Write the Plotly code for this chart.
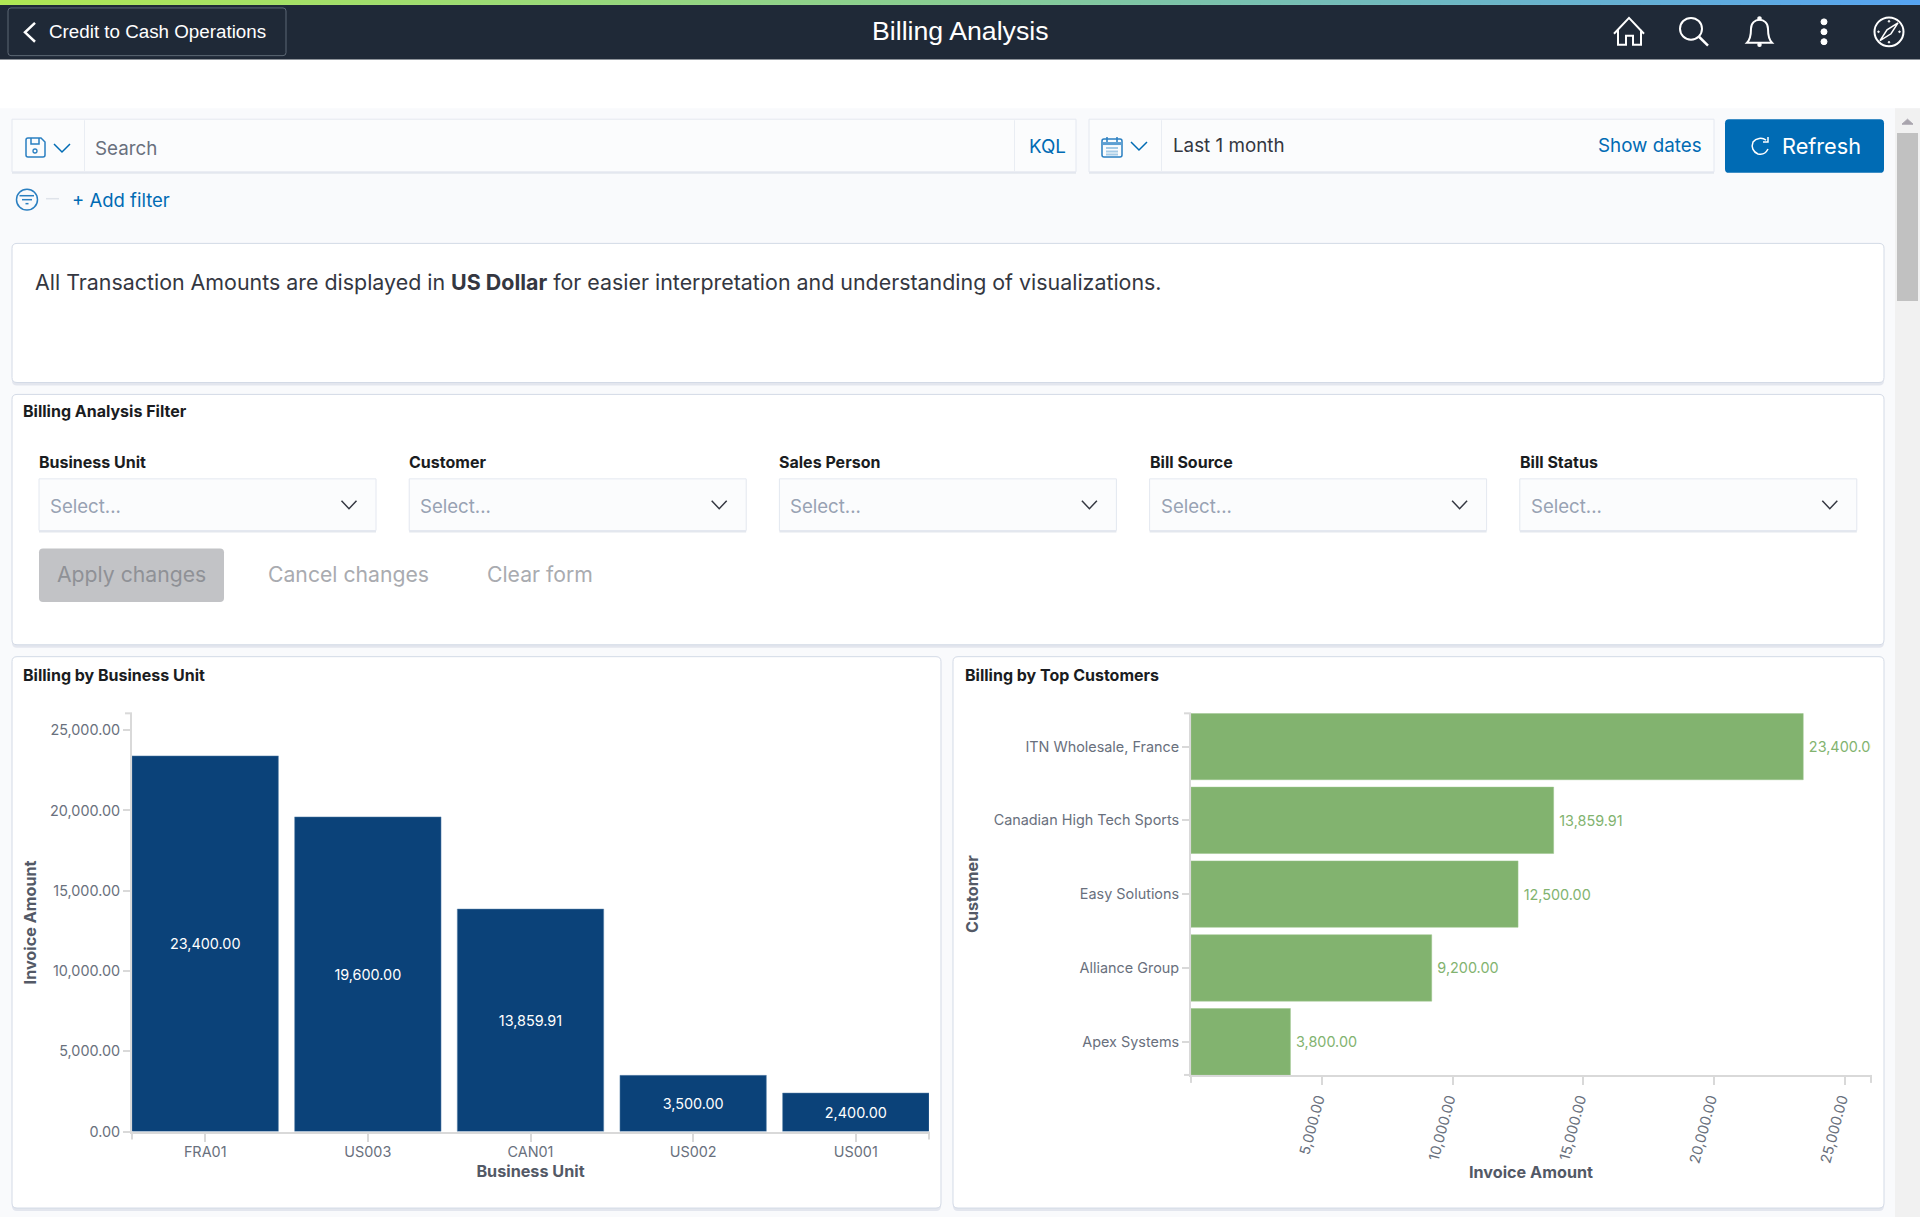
import re
import plotly.graph_objects as go

W, H = 1920, 1225

# chart values
unit_names = ['FRA01', 'US003', 'CAN01', 'US002', 'US001']
unit_amounts = [23400.00, 19600.00, 13859.91, 3500.00, 2400.00]
customer_names = ['ITN Wholesale, France', 'Canadian High Tech Sports', 'Easy Solutions', 'Alliance Group', 'Apex Systems']
customer_amounts = [23400.00, 13859.91, 12500.00, 9200.00, 3800.00]
amount_ticks = [0, 5000, 10000, 15000, 20000, 25000]
filter_names = ['Business Unit', 'Customer', 'Sales Person', 'Bill Source', 'Bill Status']

FONT = 'Inter'
BLUE = '#006bb4'
ICON = '#2a7fc1'
BORDER = '#d3dae6'
AXIS = '#d9d9d9'
TICK = '#69707d'
TITLE = '#535966'


def px(x):
    return x / W


def py(y):
    return 1 - y / H


def to_paper(d):
    # path written in pixels, converted to paper fractions
    out = []
    is_x = True
    for tok in re.findall(r'[MLCQZ]|-?[\d.]+', d):
        if tok in 'MLCQZ':
            out.append(tok)
            is_x = True
        else:
            out.append(f'{px(float(tok)) if is_x else py(float(tok)):.6f}')
            is_x = not is_x
    return ' '.join(out)


shapes = []
notes = []


def rect(x0, y0, x1, y1, fill, line=None, lw=1):
    shapes.append(dict(type='rect', xref='paper', yref='paper', layer='below',
                       x0=px(x0), x1=px(x1), y0=py(y0), y1=py(y1), fillcolor=fill,
                       line=dict(color=line or fill, width=lw if line else 0)))


def rrect(x0, y0, x1, y1, r, fill, line=None, lw=1):
    d = (f'M {x0+r} {y0} L {x1-r} {y0} Q {x1} {y0} {x1} {y0+r} L {x1} {y1-r} Q {x1} {y1} {x1-r} {y1} '
         f'L {x0+r} {y1} Q {x0} {y1} {x0} {y1-r} L {x0} {y0+r} Q {x0} {y0} {x0+r} {y0} Z')
    shapes.append(dict(type='path', xref='paper', yref='paper', layer='below', path=to_paper(d),
                       fillcolor=fill, line=dict(color=line or fill, width=lw if line else 0)))


def stroke(d, color, lw=2, fill=None, layer='above'):
    s = dict(type='path', xref='paper', yref='paper', layer=layer, path=to_paper(d),
             line=dict(color=color, width=lw))
    if fill:
        s['fillcolor'] = fill
    shapes.append(s)


def circle(cx, cy, r, color, lw=2, fill=None):
    s = dict(type='circle', xref='paper', yref='paper', x0=px(cx-r), x1=px(cx+r), y0=py(cy-r), y1=py(cy+r),
             line=dict(color=color, width=lw))
    if fill:
        s['fillcolor'] = fill
    shapes.append(s)


def text(x, y, s, size, color, anchor='left', family=FONT, angle=0):
    notes.append(dict(x=px(x), y=py(y), xref='paper', yref='paper', text=s, showarrow=False,
                      xanchor=anchor, yanchor='middle', textangle=angle, align=anchor,
                      borderpad=0, borderwidth=0,
                      font=dict(family=family, size=size, color=color)))


def panel(x0, y0, x1, y1, fill='#ffffff'):
    rrect(x0, y0+2, x1, y1+3, 5, '#e3e6ee')
    rrect(x0, y0, x1, y1, 5, fill, BORDER, 1)


def box(x0, y0, x1, y1):
    rect(x0, y0+1, x1, y1+2, '#e3e7ee')
    rect(x0, y0, x1, y1, '#fbfcfd', '#e4e8f0', 1)


def chevron(cx, cy, w, h, color, lw=1.5):
    stroke(f'M {cx-w} {cy-h} L {cx} {cy+h} L {cx+w} {cy-h}', color, lw)


# page background and header
rect(0, 0, W, H, '#ffffff')
rect(0, 109, W, H, '#f9fafc')
stops = [(176, 232, 84), (136, 205, 148), (85, 163, 240)]
for i in range(96):
    t = i / 95 * 2
    a, b = stops[min(int(t), 1)], stops[min(int(t), 1) + 1]
    f = t - min(int(t), 1)
    col = 'rgb(%d,%d,%d)' % tuple(a[k] + (b[k] - a[k]) * f for k in range(3))
    rect(i * 20, 0, (i + 1) * 20 + 1, 5, col)
rect(0, 5, W, 60, '#1f2937')
rrect(8, 8, 286, 56, 3, '#1f2937', '#5d6875', 1)
stroke('M 35 23 L 25 32.5 L 35 42', '#ffffff', 2.5)
text(49, 32, 'Credit to Cash Operations', 18.8, '#ffffff', family='Liberation Sans')
text(960, 31, 'Billing Analysis', 26.7, '#ffffff', 'center', family='Liberation Sans')

# header icons
stroke('M 1614 34 L 1629 18 L 1644 34 M 1618 30 L 1618 45 L 1626 45 L 1626 36 L 1633 36 L 1633 45 L 1641 45 L 1641 30', '#ffffff', 2)
circle(1691, 29, 11, '#ffffff', 2)
stroke('M 1699 37 L 1708 46', '#ffffff', 2.5)
stroke('M 1747 43 C 1751 39 1751 33 1751 29 C 1751 23 1755 20 1759.5 20 C 1764 20 1768 23 1768 29 C 1768 33 1768 39 1772 43 Z', '#ffffff', 2)
circle(1759.5, 18.5, 1.5, '#ffffff', 1.5, '#ffffff')
circle(1759.5, 45, 1.5, '#ffffff', 1.5, '#ffffff')
for dy in [22, 32, 42]:
    circle(1824, dy, 3, '#ffffff', 1, '#ffffff')
circle(1889, 32, 14.5, '#ffffff', 2)
stroke('M 1898 23 L 1891 34 L 1880 41 L 1887 30 Z', '#ffffff', 1.5)
for dx, dy in [(0, -10.5), (10.5, 0), (0, 10.5), (-10.5, 0)]:
    circle(1889 + dx, 32 + dy, 0.8, '#ffffff', 1, '#ffffff')

# search bar
box(12, 120, 1076, 173)
rect(84, 121, 85, 172, '#e9edf3')
rect(1014, 121, 1015, 172, '#e9edf3')
text(95, 149, 'Search', 18.8, TICK)
text(1029, 147, 'KQL', 18.8, BLUE)
stroke('M 28 139 L 41 139 L 45 143 L 45 156 Q 45 158 43 158 L 28 158 Q 26 158 26 156 L 26 141 Q 26 139 28 139 Z M 31 139 L 31 145 L 39 145 L 39 139', ICON, 1.5)
circle(35, 152, 2, ICON, 1.3)
chevron(62, 149, 8, 4, BLUE)

box(1089, 120, 1714, 173)
rect(1161, 121, 1162, 172, '#e9edf3')
stroke('M 1104 140 L 1120 140 Q 1122 140 1122 142 L 1122 156 Q 1122 158 1120 158 L 1104 158 Q 1102 158 1102 156 L 1102 142 Q 1102 140 1104 140 Z', ICON, 1.5)
stroke('M 1103 144.5 L 1121 144.5', '#5d9fd2', 3)
stroke('M 1107 138 L 1107 143 M 1117 138 L 1117 143', ICON, 1.5)
for yy in [149, 152.5, 155.5]:
    stroke(f'M 1106 {yy} L 1118 {yy}', '#a6cbe6', 2)
chevron(1139, 147, 8, 4, BLUE)
text(1173, 146, 'Last 1 month', 18.8, '#343741')
text(1702, 146, 'Show dates', 18.8, BLUE, 'right')
rrect(1725, 120, 1884, 174, 4, BLUE)
stroke('M 1766 141 C 1762 138 1756 139 1753 143 C 1751 148 1753 153 1758 155 C 1762 156 1766 154 1768 150 M 1768 138 L 1768 143 L 1763 143', '#ffffff', 1.5)
text(1782, 147, 'Refresh', 21.7, '#ffffff')

# filter row under the search bar
circle(27, 201, 10.5, ICON, 1.5)
for x0, x1, yy in [(19.5, 34, 197), (22, 32, 201), (25.5, 28.5, 205)]:
    stroke(f'M {x0} {yy} L {x1} {yy}', ICON, 1.5)
stroke('M 46 200 L 59 200', '#dfe3ea', 1.5)
text(72, 201, '+ Add filter', 18.5, BLUE)

# scrollbar
rect(1895, 109, W, H, '#f1f1f1')
rect(1897, 134, 1918, 303, '#c1c1c1')
stroke('M 1902 125 L 1913 125 L 1907.5 120 Z', '#a8a4ad', 1, '#a8a4ad')

# info panel
panel(12, 245, 1884, 385)
text(34.5, 284, 'All Transaction Amounts are displayed in <b>US Dollar</b> for easier interpretation and understanding of visualizations.', 21.4, '#343741')

# filter panel
panel(12, 397, 1884, 649)
text(23, 414, '<b>Billing Analysis Filter</b>', 16, '#1a1c21')
for i, name in enumerate(filter_names):
    x0 = 39 + i * 370.2
    text(x0, 465, f'<b>{name}</b>', 16, '#1a1c21')
    box(x0, 482, x0 + 337, 534)
    text(x0 + 11, 509, 'Select...', 18.6, '#98a2b3')
    chevron(x0 + 310, 508, 7.5, 4, '#343741')
rrect(39, 552, 224, 606, 4, '#c2c3c6')
text(131.5, 578, 'Apply changes', 21.2, '#8f9196', 'center')
text(268, 578, 'Cancel changes', 21.2, '#a9abb0')
text(487, 578, 'Clear form', 21.2, '#a9abb0')

# chart panels
panel(12, 661, 941, 1216)
panel(953, 661, 1884, 1216)
text(23, 679, '<b>Billing by Business Unit</b>', 16, '#1a1c21')
text(965, 679, '<b>Billing by Top Customers</b>', 16, '#1a1c21')

# axis end ticks that the chart library draws at the domain ends
for x0, y0, x1, y1 in [(125, 718, 132, 718), (132, 1139, 132, 1147), (929, 1139, 929, 1147),
                       (1184, 718, 1191, 718), (1184, 1082, 1191, 1082), (1191, 1082, 1191, 1090), (1871, 1082, 1871, 1090)]:
    stroke(f'M {x0} {y0} L {x1} {y1}', AXIS, 2)

tick_font = dict(family=FONT, size=14.4, color=TICK)
title_font = dict(family=FONT, size=16.2, color=TITLE, weight='bold')

fig = go.Figure()
fig.add_trace(go.Bar(x=unit_names, y=unit_amounts, marker=dict(color='#0b4279', line=dict(width=0.5, color='#5f86ad')),
                     texttemplate='%{y:,.2f}', textposition='inside', insidetextanchor='middle',
                     textangle=0, constraintext='none', cliponaxis=True,
                     textfont=dict(family=FONT, size=14.4, color='#ffffff'),
                     xaxis='x', yaxis='y', hoverinfo='skip'))
fig.add_trace(go.Bar(x=customer_amounts, y=customer_names, orientation='h', marker=dict(color='#82b36f', line=dict(width=0.5, color='#9cc48c')),
                     texttemplate='\u2009%{x:,.2f}', textposition='outside',
                     textangle=0, constraintext='none', cliponaxis=True,
                     textfont=dict(family=FONT, size=14.4, color='#82b36f'),
                     xaxis='x2', yaxis='y2', hoverinfo='skip'))

axis_common = dict(showgrid=False, zeroline=False, showline=True, linecolor=AXIS, linewidth=2,
                   ticks='outside', ticklen=7, tickcolor=AXIS, tickwidth=1.5, tickfont=tick_font)
fig.update_layout(
    width=W, height=H, margin=dict(l=0, r=0, t=0, b=0), showlegend=False, bargap=0.1,
    paper_bgcolor='#ffffff', plot_bgcolor='rgba(0,0,0,0)', shapes=shapes, annotations=notes,
    xaxis=dict(axis_common, domain=[px(132), px(929)], anchor='y', type='category', range=[-0.45, 4.45],
               categoryorder='array', categoryarray=unit_names, ticklen=8, ticklabelstandoff=-2,
               title=dict(text='Business Unit', font=title_font, standoff=7)),
    yaxis=dict(axis_common, domain=[py(1139), py(718)], anchor='x', range=[0, 26052],
               tickvals=amount_ticks, tickformat=',.2f',
               title=dict(text='Invoice Amount', font=title_font, standoff=9)),
    xaxis2=dict(axis_common, domain=[px(1191), px(1871)], anchor='y2', range=[0, 25990], ticklen=8,
                tickvals=amount_ticks[1:], tickformat=',.2f', tickangle=-75, ticklabelshift=-4,
                title=dict(text='Invoice Amount', font=title_font, standoff=1)),
    yaxis2=dict(axis_common, domain=[py(1082), py(718)], anchor='x2', type='category', range=[4.45, -0.45],
                categoryorder='array', categoryarray=customer_names,
                title=dict(text='Customer', font=title_font, standoff=11)),
)
fig.write_html("out.html", config={'displayModeBar': False},
               post_script="document.body.style.margin='0';document.body.style.overflow='hidden';")
